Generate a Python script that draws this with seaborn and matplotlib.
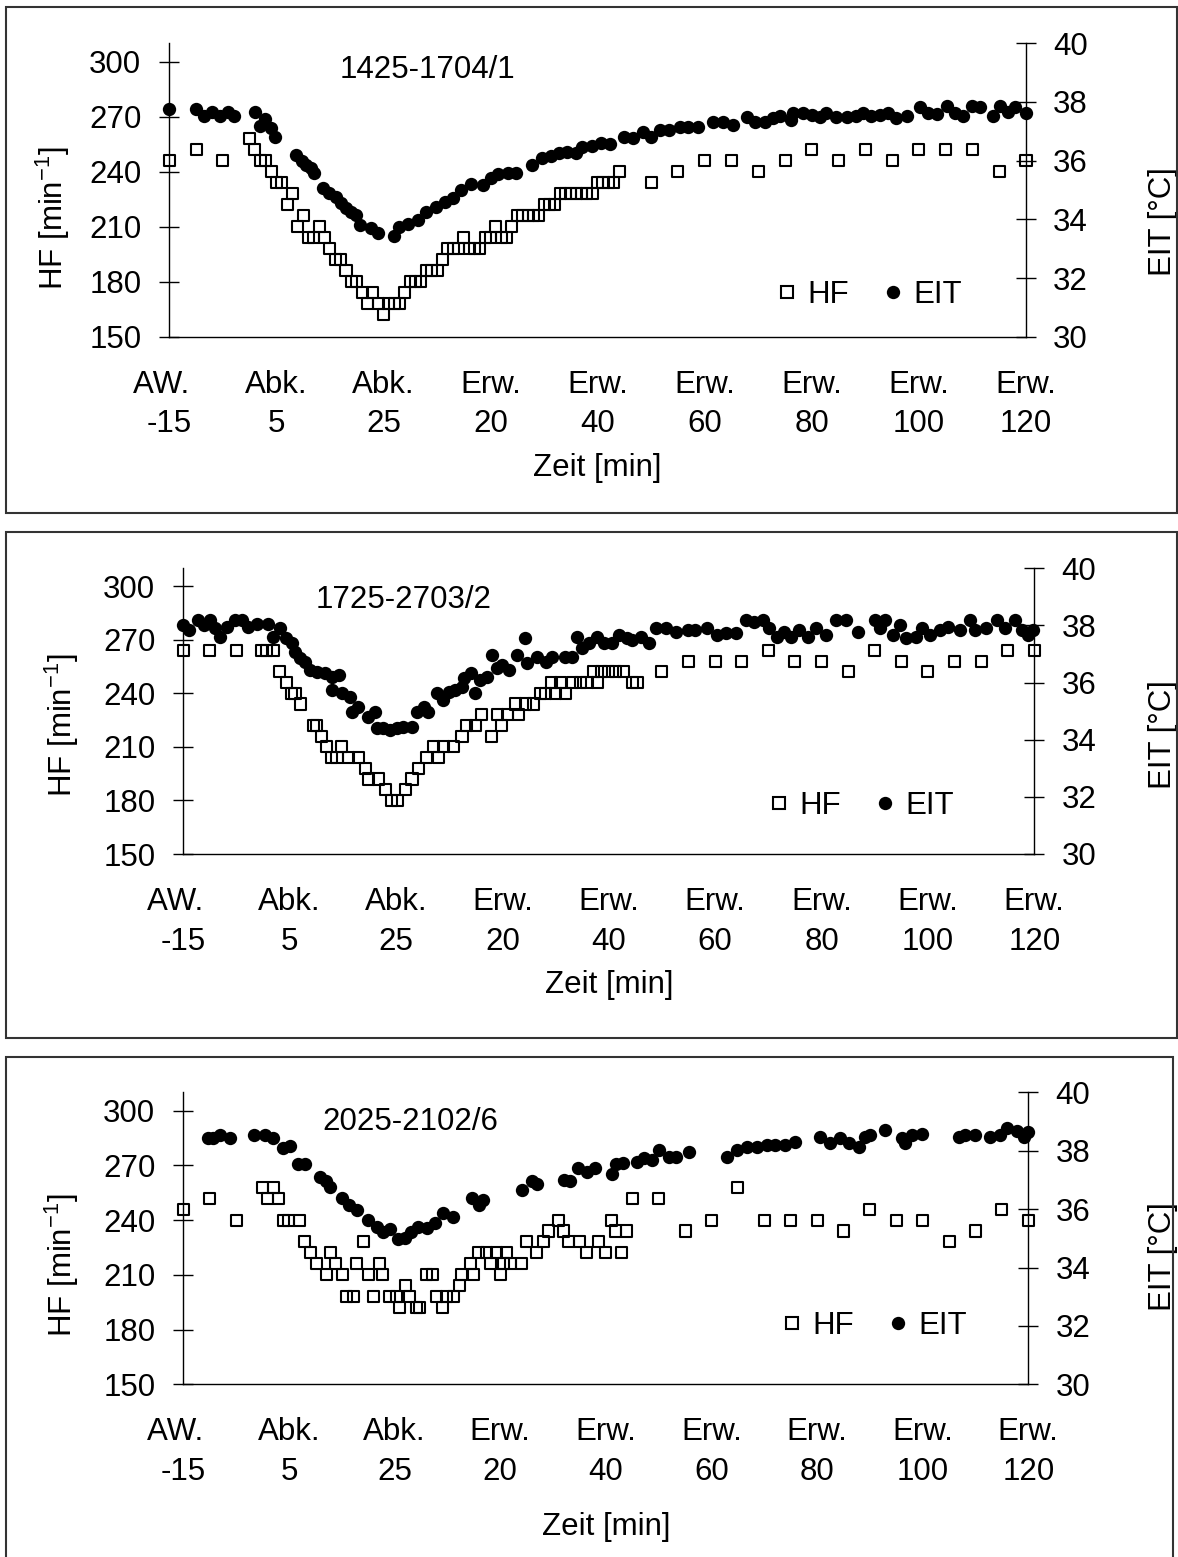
import matplotlib
matplotlib.use("Agg")
import matplotlib.pyplot as plt
from matplotlib.lines import Line2D
from matplotlib.patches import Rectangle
import pandas as pd
import seaborn as sns

# ---------------------------------------------------------------------------
# Axis definitions (time axis in minutes since start of the record, AW. -15)
# ---------------------------------------------------------------------------
x_ticks = [0, 10, 20, 30, 40, 50, 60, 70, 80, 90, 100, 110, 120, 130, 140, 150, 160]
x_tick_labels = ["AW.  \n-15", "", "Abk.\n5", "", "Abk.\n25", "", "Erw.\n20", "",
                 "Erw.\n40", "", "Erw.\n60", "", "Erw.\n80", "", "Erw.\n100", "",
                 "Erw.\n120"]
hf_ticks = [150, 180, 210, 240, 270, 300]
eit_ticks = [30, 32, 34, 36, 38, 40]
titles = ["1425-1704/1", "1725-2703/2", "2025-2102/6"]

# ---------------------------------------------------------------------------
# Animal 1425-1704/1
# ---------------------------------------------------------------------------
p1_hf_t = [0, 5, 10, 15, 16, 17, 18, 19, 20, 21, 22, 23, 24, 25, 26, 27, 28, 29,
           30, 31, 32, 33, 34, 35, 36, 37, 38, 39, 40, 41, 42, 43, 44, 45, 46, 47,
           48, 49, 50, 51, 52, 53, 54, 55, 56, 57, 58, 59, 60, 61, 62, 63, 64, 65,
           66, 67, 68, 69, 70, 71, 72, 73, 74, 75, 76, 77, 78, 79, 80, 81, 82, 83,
           84, 90, 95, 100, 105, 110, 115, 120, 125, 130, 135, 140, 145, 150, 155, 160]
p1_hf = [246, 252, 246, 258, 252, 246, 246, 240, 234, 234, 222, 228, 210, 216, 204,
         204, 210, 204, 198, 192, 192, 186, 180, 180, 174, 168, 174, 168, 162, 168,
         168, 168, 174, 180, 180, 180, 186, 186, 186, 192, 198, 198, 198, 204, 198,
         198, 198, 204, 204, 210, 204, 204, 210, 216, 216, 216, 216, 216, 222, 222,
         222, 228, 228, 228, 228, 228, 228, 228, 234, 234, 234, 234, 240, 234, 240,
         246, 246, 240, 246, 252, 246, 252, 246, 252, 252, 252, 240, 246]
p1_eit_t = [0, 5, 6.5, 8, 9.5, 11, 12, 16, 17, 17.8, 19, 19.7, 23.7, 24.7, 25.6,
            26.5, 27.1, 28.7, 29.9, 31.2, 32.1, 33, 34, 34.9, 35.7, 37.7, 38.9, 41.9,
            42.9, 44.5, 46.4, 48, 49.8, 51.4, 52.9, 54.5, 56.3, 58.5, 60.1, 61.3, 63.2,
            64.7, 67.8, 69.7, 71.2, 72.8, 74.3, 75.9, 77.1, 79, 80.6, 82.3, 85, 86.6,
            88.4, 90, 91.6, 93.4, 95.3, 96.9, 98.7, 101.5, 103.4, 105.3, 107.8, 109.3,
            111.2, 112.8, 114, 116.2, 116.5, 118.4, 120, 121.5, 122.7, 124.6, 126.5,
            128.3, 129.6, 131.1, 132.7, 134.3, 135.8, 137.7, 140.2, 141.7, 143.3,
            145.2, 146.8, 148.3, 149.9, 151.4, 153.9, 155.1, 156.7, 157.9, 160]
p1_eit = [37.76, 37.76, 37.53, 37.67, 37.53, 37.67, 37.53, 37.67, 37.19, 37.41,
          37.10, 36.82, 36.19, 36.00, 35.85, 35.74, 35.57, 35.06, 34.89, 34.77,
          34.55, 34.38, 34.26, 34.15, 33.81, 33.69, 33.52, 33.43, 33.75, 33.83,
          33.98, 34.26, 34.43, 34.60, 34.72, 35.00, 35.20, 35.17, 35.40, 35.55,
          35.57, 35.57, 35.85, 36.08, 36.16, 36.25, 36.31, 36.25, 36.48, 36.50,
          36.59, 36.56, 36.82, 36.76, 36.99, 36.82, 37.05, 37.05, 37.16, 37.16,
          37.16, 37.33, 37.33, 37.22, 37.50, 37.33, 37.33, 37.44, 37.52, 37.39,
          37.61, 37.61, 37.56, 37.48, 37.64, 37.48, 37.50, 37.52, 37.64, 37.52,
          37.56, 37.64, 37.44, 37.52, 37.82, 37.61, 37.59, 37.86, 37.64, 37.52,
          37.86, 37.82, 37.52, 37.86, 37.67, 37.84, 37.61]

# ---------------------------------------------------------------------------
# Animal 1725-2703/2
# ---------------------------------------------------------------------------
p2_hf_t = [0, 5, 10, 14.7, 15.7, 16.9, 18.1, 19.4, 20.4, 21, 22, 24.5, 25.1, 26,
           27, 27.9, 28.9, 29.8, 31, 32.9, 34.2, 34.8, 36.7, 38, 39.2, 40.2, 41.7,
           43, 44.2, 45.8, 47.1, 48, 48.9, 50.8, 52.4, 53.3, 54.9, 56.1, 58, 59,
           59.9, 60.9, 62.4, 63, 64.3, 65.9, 67.1, 68.1, 69.3, 70, 70.9, 71.8, 73.1,
           74.7, 75.9, 77.2, 77.8, 78.7, 80, 81.2, 82.8, 84.4, 85.3, 90, 95, 100,
           105, 110, 115, 120, 125, 130, 135, 140, 145, 150, 155, 160]
p2_hf = [264, 264, 264, 264, 264, 264, 252, 246, 240, 240, 234, 222, 222, 216, 210,
         204, 204, 210, 204, 204, 198, 192, 192, 186, 180, 180, 186, 192, 198, 204,
         210, 204, 210, 210, 216, 222, 222, 228, 216, 228, 222, 228, 234, 228, 234,
         234, 240, 240, 246, 240, 246, 240, 246, 246, 246, 252, 246, 252, 252, 252,
         252, 246, 246, 252, 258, 258, 258, 264, 258, 258, 252, 264, 258, 252, 258,
         258, 264, 264]
p2_eit_t = [0, 1.1, 2.8, 3.8, 5, 6, 6.9, 8.2, 9.7, 11, 12.2, 13.8, 16, 16.9, 18.2,
            19.4, 20.4, 21, 22, 22.9, 23.8, 25.1, 26.7, 27.9, 29.2, 27.9, 29.8, 31.4,
            31.7, 32.9, 34.8, 36.1, 36.4, 37.6, 38.9, 40.2, 41.4, 43, 43.9, 45.2,
            46.1, 47.7, 48.9, 49.9, 51.1, 52.4, 52.7, 54, 54.9, 55.8, 57.1, 58, 59,
            59.9, 61.2, 62.7, 64.3, 64.6, 66.5, 68.1, 69.3, 71.8, 73.1, 74, 75, 76.2,
            77.8, 79.1, 80.6, 81.9, 83.4, 84.4, 86, 87.5, 88.8, 90.7, 92.6, 94.8,
            96.3, 98.5, 100.4, 102, 103.9, 105.8, 107.3, 108.9, 110.2, 111.7, 113,
            114.3, 115.8, 117.4, 119, 120.9, 122.7, 124.6, 126.8, 130, 130.9, 131.9,
            133.4, 134.7, 135.9, 137.8, 138.8, 140.3, 142.2, 143.8, 146, 147.9,
            148.8, 151, 152.9, 154.5, 156.4, 157.6, 158.9, 159.8]
p2_eit = [38.02, 37.84, 38.19, 38.02, 38.19, 37.90, 37.61, 37.96, 38.19, 38.19,
          37.96, 38.05, 38.05, 37.61, 37.90, 37.55, 37.37, 37.08, 36.85, 36.73,
          36.44, 36.38, 36.32, 36.21, 36.27, 35.74, 35.62, 35.51, 34.98, 35.16,
          34.81, 34.98, 34.40, 34.40, 34.34, 34.40, 34.46, 34.46, 34.98, 35.16,
          34.98, 35.62, 35.39, 35.68, 35.74, 35.86, 36.15, 36.32, 35.62, 36.09,
          36.21, 36.97, 36.50, 36.62, 36.44, 36.97, 37.55, 36.67, 36.91, 36.73,
          36.91, 36.91, 36.91, 37.61, 37.20, 37.37, 37.61, 37.37, 37.37, 37.67,
          37.55, 37.49, 37.61, 37.37, 37.90, 37.90, 37.78, 37.84, 37.84, 37.90,
          37.67, 37.72, 37.72, 38.19, 38.13, 38.19, 37.90, 37.61, 37.78, 37.61,
          37.84, 37.61, 37.90, 37.67, 38.19, 38.19, 37.78, 38.19, 37.90, 38.19,
          37.67, 38.02, 37.55, 37.61, 37.90, 37.67, 37.84, 37.96, 37.84, 38.19,
          37.84, 37.90, 38.19, 37.90, 38.19, 37.84, 37.67, 37.84]

# ---------------------------------------------------------------------------
# Animal 2025-2102/6
# ---------------------------------------------------------------------------
p3_hf_t = [0, 5, 10, 15, 16, 17, 18, 19, 20, 22, 23, 24, 25.3, 27.1, 27.8, 28.9,
           30.2, 30.9, 32.2, 32.8, 34.1, 35, 36, 37.2, 37.8, 39.1, 40.4, 41, 42,
           42.9, 44.2, 44.8, 46.1, 47.2, 48, 49.1, 49.9, 51.1, 52.3, 52.7, 54.3,
           54.9, 55.9, 57.4, 58.1, 59.3, 60, 60.6, 61.2, 61.9, 64.1, 65, 66.9, 68.2,
           69.1, 71, 72, 72.9, 75.1, 76.4, 78.6, 79.9, 81.1, 81.8, 83, 84, 85, 90,
           95, 100, 105, 110, 115, 120, 125, 130, 135, 140, 145, 150, 155, 160]
p3_hf = [246, 252, 240, 258, 252, 258, 252, 240, 240, 240, 228, 222, 216, 210, 222,
         216, 210, 198, 198, 216, 228, 210, 198, 216, 210, 198, 198, 192, 204, 198,
         192, 192, 210, 210, 198, 192, 198, 198, 204, 210, 216, 210, 222, 222, 216,
         222, 210, 216, 222, 216, 216, 228, 222, 228, 234, 240, 234, 228, 228, 222,
         228, 222, 240, 234, 222, 234, 252, 252, 234, 240, 258, 240, 240, 240, 234,
         246, 240, 240, 228, 234, 246, 240]
p3_eit_t = [4.7, 5.7, 6.9, 8.8, 13.3, 15.5, 17, 18.9, 20.2, 21.8, 23, 25.9, 27.1,
            27.8, 30, 31.3, 32.8, 35, 36.6, 37.9, 39.1, 40.7, 42, 43.2, 44.5, 46.1,
            47.7, 49.2, 51.1, 54.6, 55.9, 56.8, 64.1, 66, 66.9, 72, 73.2, 74.8, 76.4,
            78, 81.1, 81.9, 83.2, 86, 87.2, 88.8, 90.1, 92, 93.2, 95.7, 103, 104.9,
            106.8, 108.7, 110.6, 112.1, 114, 115.9, 120.6, 122.5, 124.4, 126, 127.9,
            129.1, 130.1, 132.9, 136.1, 136.7, 138, 139.8, 146.8, 148, 149.9, 152.8,
            154.6, 155.9, 157.8, 159.1, 160]
p3_eit = [38.42, 38.42, 38.54, 38.42, 38.54, 38.54, 38.45, 38.08, 38.17, 37.53,
          37.53, 37.11, 36.96, 36.77, 36.37, 36.14, 35.97, 35.63, 35.40, 35.23,
          35.32, 34.98, 35.00, 35.23, 35.37, 35.34, 35.51, 35.86, 35.74, 36.37,
          36.14, 36.31, 36.66, 36.96, 36.85, 37.00, 36.96, 37.40, 37.28, 37.40,
          37.19, 37.53, 37.57, 37.60, 37.76, 37.68, 38.03, 37.80, 37.80, 37.95,
          37.80, 38.03, 38.14, 38.14, 38.20, 38.20, 38.20, 38.29, 38.48, 38.25,
          38.42, 38.25, 38.14, 38.48, 38.54, 38.71, 38.42, 38.25, 38.54, 38.56,
          38.48, 38.54, 38.54, 38.48, 38.54, 38.77, 38.68, 38.48, 38.63]

panels_data = [
    (p1_hf_t, p1_hf, p1_eit_t, p1_eit),
    (p2_hf_t, p2_hf, p2_eit_t, p2_eit),
    (p3_hf_t, p3_hf, p3_eit_t, p3_eit),
]

# ---------------------------------------------------------------------------
# Page layout in pixels (origin top-left of the page)
# ---------------------------------------------------------------------------
W, H = 1178, 1557
layout = [
    dict(ax=(169.3, 1026.0, 43.3, 336.7), frame=(6, 7, 1177, 513),
         title=(427.5, 78.3), legend=(786.7, 295.0), hf_lab=(53, 218),
         eit_lab=(1163, 222), xlab=468),
    dict(ax=(183.3, 1034.3, 568.3, 854.0), frame=(6, 532, 1177, 1038),
         title=(403.3, 608.3), legend=(779.0, 806.0), hf_lab=(62, 725),
         eit_lab=(1163, 735), xlab=985),
    dict(ax=(183.3, 1028.3, 1092.3, 1384.3), frame=(6, 1057, 1173, 1562),
         title=(410.8, 1130.0), legend=(791.7, 1325.7), hf_lab=(62, 1265),
         eit_lab=(1163, 1257), xlab=1527),
]

sns.set_style("white")
plt.rcParams["font.family"] = ["Liberation Sans", "DejaVu Sans"]
plt.rcParams["mathtext.default"] = "regular"
plt.rcParams["text.color"] = "black"
plt.rcParams["axes.labelcolor"] = "black"
plt.rcParams["xtick.color"] = "black"
plt.rcParams["ytick.color"] = "black"

FS = 22.5
PX = 72 / 100  # points per pixel at dpi 100


def fx(x):
    return x / W


def fy(y):
    return 1 - y / H


fig = plt.figure(figsize=(W / 100, H / 100), dpi=100)

for (hf_t, hf, eit_t, eit), title, lay in zip(panels_data, titles, layout):
    l, r, t, b = lay["ax"]
    ax = fig.add_axes([fx(l), fy(b), (r - l) / W, (b - t) / H])
    ax.set_facecolor("none")
    ax2 = ax.twinx()

    df_hf = pd.DataFrame({"Zeit": hf_t, "HF": hf})
    df_eit = pd.DataFrame({"Zeit": eit_t, "EIT": eit})

    sns.scatterplot(data=df_hf, x="Zeit", y="HF", ax=ax, marker="s", s=63,
                    facecolor="none", edgecolor="black", linewidth=1.5,
                    legend=False, clip_on=False)
    sns.scatterplot(data=df_eit, x="Zeit", y="EIT", ax=ax2, marker="o", s=92,
                    color="black", edgecolor="black", linewidth=0,
                    legend=False, clip_on=False)

    ax.set_xlim(0, 160)
    ax.set_ylim(150, 310)
    ax2.set_ylim(30, 40)
    ax.set_xticks(x_ticks)
    ax.set_xticklabels(x_tick_labels, linespacing=1.42, multialignment="center")
    ax.set_yticks(hf_ticks)
    ax2.set_yticks(eit_ticks)

    for a in (ax, ax2):
        for side in ("top", "left", "right", "bottom"):
            a.spines[side].set_visible(False)
    ax.spines["left"].set_visible(True)
    ax.spines["bottom"].set_visible(True)
    ax2.spines["right"].set_visible(True)
    for sp in (ax.spines["left"], ax.spines["bottom"], ax2.spines["right"]):
        sp.set_linewidth(1.0)
        sp.set_color("black")

    ax.tick_params(axis="x", direction="inout", length=20 * PX, width=1.0,
                   labelsize=FS, pad=23 * PX, colors="black")
    ax.tick_params(axis="y", direction="inout", length=20 * PX, width=1.0,
                   labelsize=FS, pad=18 * PX, colors="black", left=True)
    ax2.tick_params(axis="y", direction="inout", length=20 * PX, width=1.0,
                    labelsize=FS, pad=17 * PX, colors="black", right=True)

    ax.set_ylabel("HF [min$^{-1}$]", fontsize=FS)
    ax.yaxis.set_label_coords(fx(lay["hf_lab"][0]), fy(lay["hf_lab"][1]),
                              transform=fig.transFigure)
    ax.yaxis.label.set_rotation_mode("default")
    ax.yaxis.label.set_verticalalignment("center")
    ax2.set_ylabel("EIT [°C]", fontsize=FS)
    ax2.yaxis.set_label_coords(fx(lay["eit_lab"][0]), fy(lay["eit_lab"][1]),
                               transform=fig.transFigure)
    ax2.yaxis.label.set_rotation_mode("default")
    ax2.yaxis.label.set_verticalalignment("center")
    ax.set_xlabel("Zeit [min]", fontsize=FS)
    ax.xaxis.set_label_coords(fx((l + r) / 2), fy(lay["xlab"]),
                              transform=fig.transFigure)
    ax.xaxis.label.set_verticalalignment("center")

    fig.text(fx(lay["title"][0]), fy(lay["title"][1]), title, fontsize=FS,
             ha="center", va="baseline", color="black")

    handles = [
        Line2D([], [], ls="none", marker="s", ms=8.0, mfc="none", mec="black", mew=1.5),
        Line2D([], [], ls="none", marker="o", ms=9.6, mfc="black", mec="black", mew=0),
    ]
    hl = 0.6
    lx = lay["legend"][0] - hl * FS / PX / 2
    ax2.legend(handles, ["HF", "EIT"], ncol=2, frameon=False, fontsize=FS,
               loc="center left", bbox_to_anchor=(fx(lx), fy(lay["legend"][1])),
               bbox_transform=fig.transFigure, borderpad=0, borderaxespad=0,
               handlelength=hl, handletextpad=0.35, columnspacing=1.12)

    x0, y0, x1, y1 = lay["frame"]
    fig.add_artist(Rectangle((fx(x0), fy(y1)), (x1 - x0) / W, (y1 - y0) / H,
                             transform=fig.transFigure, fill=False,
                             edgecolor="#333333", linewidth=1.5))

fig.savefig("out.png", dpi=100)
